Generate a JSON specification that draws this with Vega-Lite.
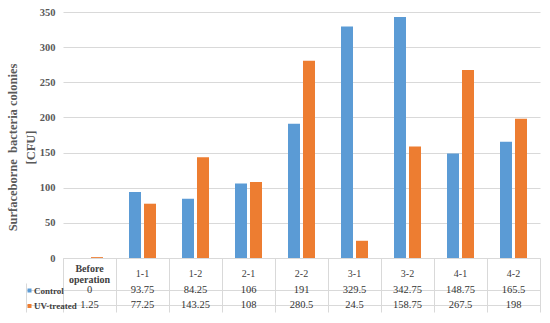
{
  "$schema": "https://vega.github.io/schema/vega-lite/v6.json",
  "width": 477,
  "height": 300,
  "autosize": {"type": "none"},
  "padding": {"left": 63, "top": 12, "right": 10, "bottom": 11},
  "background": "white",
  "config": {"view": {"stroke": null}, "font": "Liberation Serif", "legend": {"symbolType": "square"}},
  "data": {
    "values": [
      {"cat": "Before operation", "series": "Control", "value": 0},
      {"cat": "1-1", "series": "Control", "value": 93.75},
      {"cat": "1-2", "series": "Control", "value": 84.25},
      {"cat": "2-1", "series": "Control", "value": 106},
      {"cat": "2-2", "series": "Control", "value": 191},
      {"cat": "3-1", "series": "Control", "value": 329.5},
      {"cat": "3-2", "series": "Control", "value": 342.75},
      {"cat": "4-1", "series": "Control", "value": 148.75},
      {"cat": "4-2", "series": "Control", "value": 165.5},
      {"cat": "Before operation", "series": "UV-treated", "value": 1.25},
      {"cat": "1-1", "series": "UV-treated", "value": 77.25},
      {"cat": "1-2", "series": "UV-treated", "value": 143.25},
      {"cat": "2-1", "series": "UV-treated", "value": 108},
      {"cat": "2-2", "series": "UV-treated", "value": 280.5},
      {"cat": "3-1", "series": "UV-treated", "value": 24.5},
      {"cat": "3-2", "series": "UV-treated", "value": 158.75},
      {"cat": "4-1", "series": "UV-treated", "value": 267.5},
      {"cat": "4-2", "series": "UV-treated", "value": 198}
    ]
  },
  "layer": [
    {
      "mark": {"type": "bar"},
      "encoding": {
        "x": {
          "field": "cat", "type": "nominal",
          "sort": ["Before operation", "1-1", "1-2", "2-1", "2-2", "3-1", "3-2", "4-1", "4-2"],
          "scale": {"paddingInner": 0, "paddingOuter": 0},
          "axis": {
            "title": null, "orient": "bottom", "offset": -54,
            "domainColor": "#d9d9d9", "tickColor": "#d9d9d9", "tickSize": 54,
            "bandPosition": 1, "tickExtra": true, "grid": false,
            "labelAngle": 0, "labelPadding": -39,
            "labelBaseline": {"condition": {"test": "datum.value == 'Before operation'", "value": "bottom"}, "value": "middle"},
            "labelFont": "Liberation Serif", "labelFontSize": 10, "labelColor": "#404040",
            "labelFontWeight": {"condition": {"test": "datum.value == 'Before operation'", "value": "bold"}, "value": "normal"},
            "labelExpr": "datum.value == 'Before operation' ? ['Before', 'operation'] : datum.value",
            "labelLineHeight": 11
          }
        },
        "xOffset": {
          "field": "series", "type": "nominal", "sort": ["Control", "UV-treated"],
          "scale": {"paddingInner": 0.2, "paddingOuter": 0.867}
        },
        "y": {
          "field": "value", "type": "quantitative",
          "scale": {"domain": [0, 350], "range": [246, 0], "nice": false, "zero": true},
          "axis": {
            "values": [0, 50, 100, 150, 200, 250, 300, 350],
            "title": ["Surfaceborne\u00a0 bacteria colonies", "[CFU]"],
            "domain": false, "ticks": false, "labelPadding": 8,
            "labelFont": "Liberation Serif", "labelFontSize": 10.5, "labelFontWeight": "bold", "labelColor": "#595959",
            "grid": true, "gridColor": "#d9d9d9",
            "titleFont": "Liberation Serif", "titleFontSize": 12.5, "titleFontWeight": "bold", "titleColor": "#595959",
            "titleLineHeight": 18, "titlePadding": 2, "titleY": 135
          }
        },
        "color": {
          "field": "series", "type": "nominal",
          "scale": {"domain": ["Control", "UV-treated"], "range": ["#5B9BD5", "#ED7D31"]},
          "legend": {
            "orient": "none", "legendX": -38, "legendY": 274, "title": null,
            "symbolType": "square", "symbolSize": 16, "symbolStrokeWidth": 0,
            "labelFont": "Liberation Serif", "labelFontWeight": "bold", "labelFontSize": 9,
            "labelColor": "#404040", "labelOffset": 0, "rowPadding": 5.5, "padding": 0,
            "encode": {"symbols": {"update": {"shape": {"value": "square"}}}}
          }
        }
      }
    },
    {
      "mark": {"type": "text", "font": "Liberation Serif", "fontSize": 10.5, "color": "#333333"},
      "encoding": {
        "x": {
          "field": "cat", "type": "nominal",
          "sort": ["Before operation", "1-1", "1-2", "2-1", "2-2", "3-1", "3-2", "4-1", "4-2"]
        },
        "y": {
          "field": "series", "type": "nominal",
          "scale": {"domain": ["Control", "UV-treated"], "range": [271, 300], "paddingInner": 0, "paddingOuter": 0},
          "axis": {
            "orient": "left", "offset": 37, "title": null, "labels": false,
            "tickSize": -37, "tickColor": "#d9d9d9", "domainColor": "#d9d9d9",
            "bandPosition": 1, "tickExtra": true, "grid": true, "gridColor": "#d9d9d9"
          }
        },
        "text": {"field": "value", "type": "nominal"}
      }
    }
  ],
  "resolve": {"scale": {"y": "independent"}, "axis": {"y": "independent"}}
}
